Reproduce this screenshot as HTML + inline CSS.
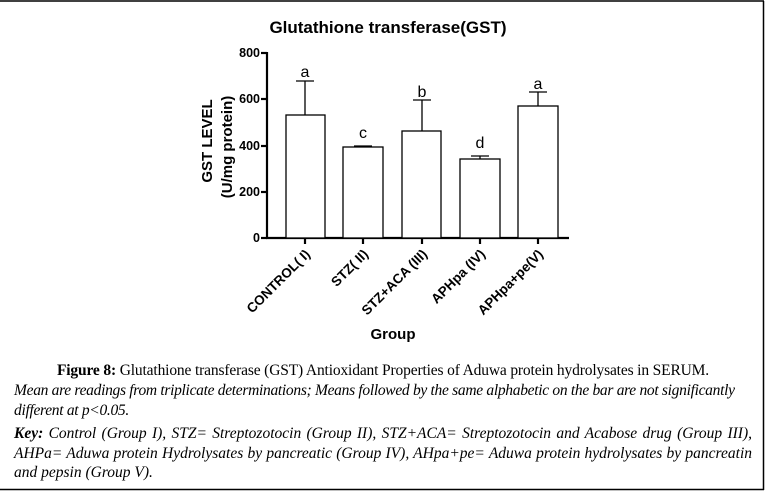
<!DOCTYPE html>
<html><head><meta charset="utf-8"><style>
body{margin:0;background:#fff;}
.c{position:absolute;font-family:"Liberation Serif",serif;font-size:15.5px;color:#000;}
</style></head><body>
<div style="position:relative;width:766px;height:491px;overflow:hidden;background:#fff">
<svg width="766" height="491" style="position:absolute;left:0;top:0" font-family="Liberation Sans, sans-serif">
<line x1="0" y1="1" x2="764" y2="1" stroke="#000" stroke-width="1.5"/>
<line x1="763.5" y1="1" x2="763.5" y2="490" stroke="#000" stroke-width="1.5"/>
<line x1="0" y1="489.5" x2="764" y2="489.5" stroke="#000" stroke-width="1.5"/>
<text x="388" y="33" font-size="17" font-weight="bold" text-anchor="middle">Glutathione transferase(GST)</text>
<g stroke="#000" stroke-width="2.2" fill="none">
<line x1="267" y1="52" x2="267" y2="239"/>
<line x1="266" y1="238" x2="569" y2="238"/>
<line x1="261" y1="53" x2="267" y2="53"/>
<line x1="261" y1="99" x2="267" y2="99"/>
<line x1="261" y1="146" x2="267" y2="146"/>
<line x1="261" y1="192" x2="267" y2="192"/>
<line x1="261" y1="238" x2="267" y2="238"/>
<line x1="305" y1="238" x2="305" y2="244"/>
<line x1="363" y1="238" x2="363" y2="244"/>
<line x1="422" y1="238" x2="422" y2="244"/>
<line x1="480" y1="238" x2="480" y2="244"/>
<line x1="538" y1="238" x2="538" y2="244"/>
</g>
<g font-size="12.5" font-weight="bold" text-anchor="end">
<text x="260" y="57">800</text><text x="260" y="103">600</text><text x="260" y="150">400</text><text x="260" y="196">200</text><text x="260" y="242">0</text>
</g>
<g stroke="#000" stroke-width="1.3" fill="#fff">
<rect x="286" y="115" width="39" height="123"/>
<rect x="343" y="147" width="40" height="91"/>
<rect x="402" y="131" width="39" height="107"/>
<rect x="460" y="159" width="40" height="79"/>
<rect x="518" y="106" width="40" height="132"/>
<path d="M305 115V81M296 81H314M363 147V146M354 146H372M422 131V100M413 100H431M480 159V156M471 156H489M538 106V92M529 92H547" fill="none"/>
</g>
<g font-size="16" text-anchor="middle">
<text x="305" y="77">a</text><text x="363" y="138">c</text><text x="422" y="97">b</text><text x="480" y="148">d</text><text x="538" y="89">a</text>
</g>
<text transform="translate(212,141) rotate(-90)" font-size="15" font-weight="bold" text-anchor="middle">GST LEVEL</text>
<text transform="translate(232,147) rotate(-90)" font-size="15" font-weight="bold" text-anchor="middle">(U/mg protein)</text>
<g font-size="13.5" font-weight="bold" text-anchor="end">
<text transform="translate(311,255) rotate(-45)">CONTROL( I)</text>
<text transform="translate(369,255) rotate(-45)">STZ( II)</text>
<text transform="translate(428,255) rotate(-45)">STZ+ACA (III)</text>
<text transform="translate(486,255) rotate(-45)">APHpa (IV)</text>
<text transform="translate(544,255) rotate(-45)">APHpa+pe(V)</text>
</g>
<text x="393" y="339" font-size="15" font-weight="bold" text-anchor="middle">Group</text>
</svg>
<div class="c" style="left:0;width:766px;top:362px;text-align:center;font-size:15.5px;letter-spacing:-0.15px"><b>Figure 8:</b> Glutathione transferase (GST) Antioxidant Properties of Aduwa protein hydrolysates in SERUM.</div>
<div class="c" style="left:14px;width:740px;top:381px;font-style:italic;line-height:20px;letter-spacing:-0.3px">Mean are readings from triplicate determinations; Means followed by the same alphabetic on the bar are not significantly different at p&lt;0.05.</div>
<div class="c" style="left:14px;width:738px;top:424px;font-style:italic;line-height:19.5px;text-align:justify;"><b>Key:</b> Control (Group I), STZ= Streptozotocin (Group II), STZ+ACA= Streptozotocin and Acabose drug (Group III), AHPa= Aduwa protein Hydrolysates by pancreatic (Group IV), AHpa+pe= Aduwa protein hydrolysates by pancreatin and pepsin (Group V).</div>
</div>
</body></html>
